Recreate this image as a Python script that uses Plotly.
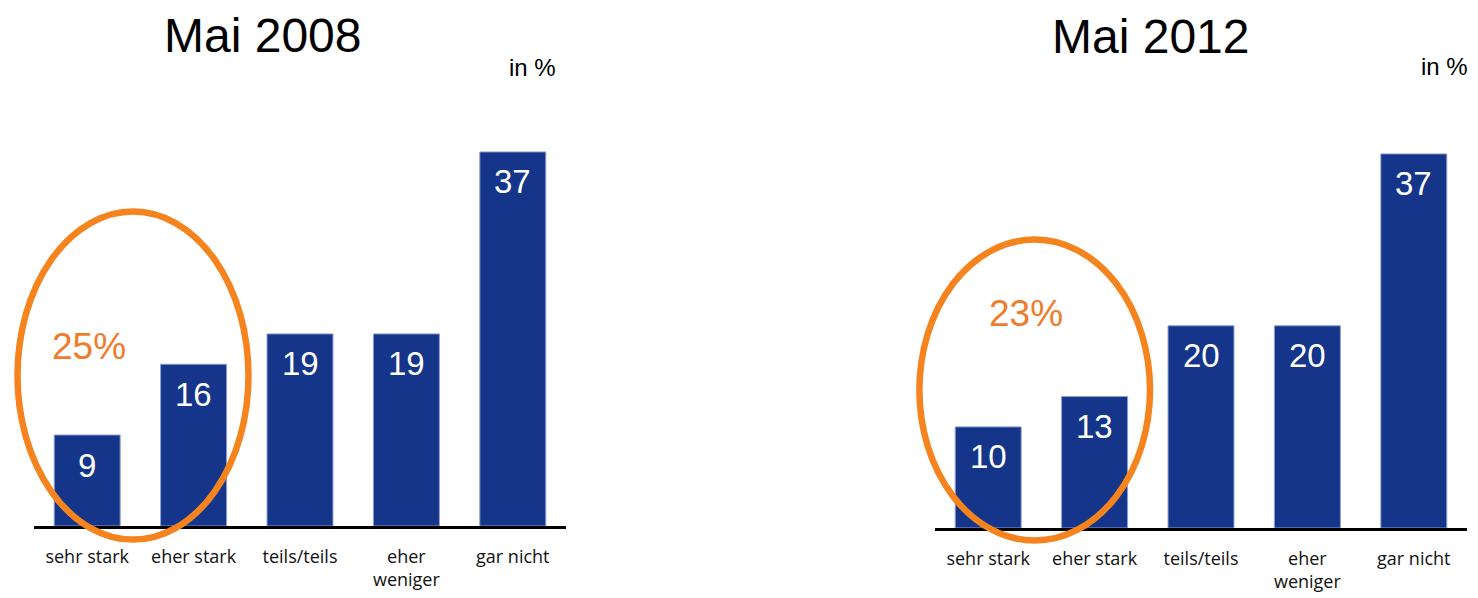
import plotly.graph_objects as go

# ---- data ----
categories = ["sehr stark", "eher stark", "teils/teils", "eher weniger", "gar nicht"]
tick_labels = ["sehr stark", "eher stark", "teils/teils", "eher<br>weniger", "gar nicht"]
values_2008 = [9, 16, 19, 19, 37]
values_2012 = [10, 13, 20, 20, 37]
titles = ["Mai 2008", "Mai 2012"]
highlights = ["25%", "23%"]
unit_label = "in %"

# ---- styling ----
OFF = 8                      # page body margin of the HTML output
W, H = 1478 - OFF, 598 - OFF
BAR = "#14358A"
BAR_EDGE = "#8C9FCF"
ORANGE_LINE = "#F5841F"
ORANGE_TEXT = "#EF7B2B"
ARIAL = "Liberation Sans, Arial, sans-serif"
CAT_FONT = "Open Sans, Lato, sans-serif"


def px_x(x):
    return (x - OFF) / W


def px_y(y):
    return 1 - (y - OFF) / H


fig = go.Figure()

fig.add_trace(go.Bar(x=categories, y=values_2008, xaxis="x", yaxis="y",
                     marker=dict(color=BAR, line=dict(color=BAR_EDGE, width=1)),
                     showlegend=False, hoverinfo="x+y"))
fig.add_trace(go.Bar(x=categories, y=values_2012, xaxis="x2", yaxis="y2",
                     marker=dict(color=BAR, line=dict(color=BAR_EDGE, width=1)),
                     showlegend=False, hoverinfo="x+y"))

xaxis_common = dict(
    type="category", categoryorder="array", categoryarray=categories,
    tickmode="array", tickvals=categories, ticktext=tick_labels,
    showline=True, linecolor="black", linewidth=3, ticks="",
    showgrid=False, zeroline=False, fixedrange=True,
    tickfont=dict(family=CAT_FONT, size=18, color="#111111"),
    ticklabelstandoff=12,
)
yaxis_common = dict(range=[0, 40], visible=False, showgrid=False,
                    zeroline=False, fixedrange=True)

fig.update_layout(
    width=W, height=H,
    margin=dict(l=0, r=0, t=0, b=0),
    paper_bgcolor="white", plot_bgcolor="white",
    bargap=0.38,
    xaxis=dict(domain=[px_x(34), px_x(566)], anchor="y", **xaxis_common),
    yaxis=dict(domain=[px_y(526), px_y(121.6)], anchor="x", **yaxis_common),
    xaxis2=dict(domain=[px_x(935), px_x(1467)], anchor="y2", **xaxis_common),
    yaxis2=dict(domain=[px_y(528), px_y(123.6)], anchor="x2", **yaxis_common),
)

annotations = []
# value labels inside bars, near the top
for xr, yr, vals in (("x", "y", values_2008), ("x2", "y2", values_2012)):
    for c, v in zip(categories, vals):
        annotations.append(dict(
            x=c, y=v, xref=xr, yref=yr, text=str(v), showarrow=False,
            yanchor="middle", yshift=-30,
            font=dict(family=ARIAL, size=33, color="white")))

# titles (box anchored at the top edge so nothing is clipped)
annotations.append(dict(x=px_x(262), y=1, xref="paper", yref="paper",
                        text=titles[0], showarrow=False, xanchor="center", yanchor="top",
                        borderpad=0,
                        font=dict(family=ARIAL, size=48, color="black")))
annotations.append(dict(x=px_x(1150.5), y=1, xref="paper", yref="paper",
                        text=titles[1], showarrow=False, xanchor="center", yanchor="top",
                        borderpad=0, yshift=-1,
                        font=dict(family=ARIAL, size=48, color="black")))
# unit labels
for cx, cy in ((532, 68), (1444.5, 67)):
    annotations.append(dict(x=px_x(cx), y=px_y(cy), xref="paper", yref="paper",
                            text=unit_label, showarrow=False, xanchor="center", yanchor="middle",
                            font=dict(family=ARIAL, size=24, color="black")))
# highlight percentages
for txt, cx, cy in ((highlights[0], 89, 346), (highlights[1], 1025.5, 313)):
    annotations.append(dict(x=px_x(cx), y=px_y(cy), xref="paper", yref="paper",
                            text=txt, showarrow=False, xanchor="center", yanchor="middle",
                            font=dict(family=ARIAL, size=37, color=ORANGE_TEXT)))

fig.update_layout(annotations=annotations)

# orange ellipses
shapes = []
for cx, cy, rx, ry in ((133, 375.6, 115.5, 164), (1034.7, 390, 115.3, 150.5)):
    shapes.append(dict(type="circle", xref="paper", yref="paper",
                       x0=px_x(cx - rx), x1=px_x(cx + rx),
                       y0=px_y(cy + ry), y1=px_y(cy - ry),
                       line=dict(color=ORANGE_LINE, width=6.5),
                       fillcolor="rgba(0,0,0,0)", layer="above"))
fig.update_layout(shapes=shapes)

fig.write_html("out.html")
